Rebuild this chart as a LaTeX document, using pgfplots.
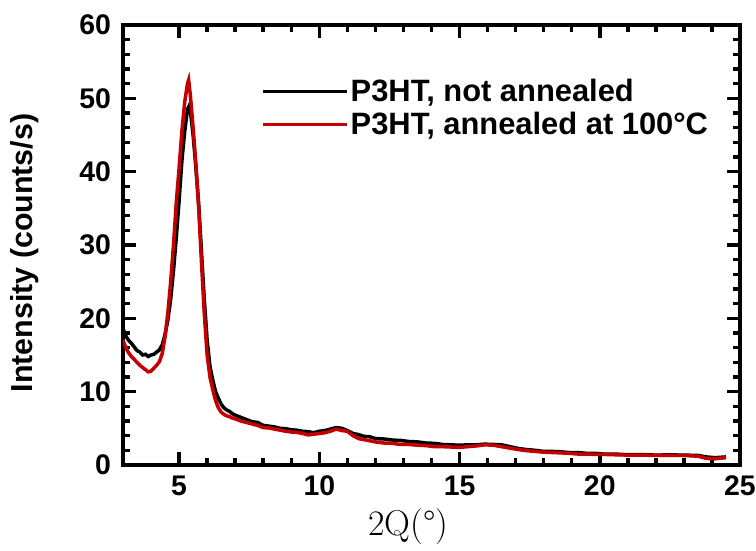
\documentclass[border=0pt]{standalone}
\usepackage{fontspec}
\setmainfont{Liberation Sans}
\newfontfamily\lmfont{Latin Modern Roman}
\usepackage{pgfplots}
\pgfplotsset{compat=1.18}
\definecolor{myred}{RGB}{196,0,0}

\begin{document}
\begin{tikzpicture}
\useasboundingbox (-123bp,-86bp) rectangle (633bp,465bp);
\begin{axis}[
  scale only axis,
  width=617bp, height=440bp,
  xmin=3, xmax=25, ymin=0, ymax=60,
  xtick={5,10,15,20,25}, ytick={0,10,20,30,40,50,60},
  minor x tick num=4, minor y tick num=4,
  tick align=inside,
  major tick length=13bp, minor tick length=7bp,
  every tick/.style={line width=3.5bp, black},
  axis line style={line width=4bp},
  /pgf/number format/assume math mode=true,
  ticklabel style={font=\fontsize{28.5}{32}\selectfont\bfseries},
  yticklabel style={xshift=-8.5bp},
  xticklabel style={yshift=-7.5bp},
  ylabel={Intensity (counts/s)},
  ylabel style={font=\fontsize{30.5}{34}\selectfont\bfseries, at={(axis description cs:-0.159,0.482)}, anchor=center},
  xlabel={\lmfont\fontsize{36}{40}\selectfont 2Q(°)},
  xlabel style={at={(axis description cs:0.462,-0.141)}, anchor=center},
  legend cell align=left,
  legend style={draw=none, fill=none, inner sep=0pt, row sep=6bp,
    font=\fontsize{31}{35}\selectfont\bfseries,
    nodes={inner sep=1.5bp},
    at={(axis description cs:0.2245,0.88)}, anchor=north west},
  legend image code/.code={\draw[#1] (0bp,0bp) -- (84bp,0bp);},
]
\addplot[black, line width=3.5bp] coordinates {
(3.00,18.6) (3.10,17.6) (3.20,17.0) (3.30,16.6) (3.40,16.1) (3.50,15.6) (3.60,15.4) (3.70,15.0) (3.80,15.1) (3.90,14.8)
(4.00,15.0) (4.10,15.1) (4.20,15.4) (4.30,15.7) (4.40,16.4) (4.50,17.8) (4.60,19.8) (4.70,22.6) (4.80,26.5) (4.90,31.0)
(5.00,36.0) (5.10,41.5) (5.20,45.5) (5.30,48.5) (5.35,48.9) (5.40,48.4) (5.50,45.0) (5.60,40.5) (5.70,35.5) (5.80,29.0)
(5.90,22.5) (6.00,17.0) (6.10,13.5) (6.20,11.6) (6.30,10.0) (6.40,9.1) (6.50,8.3) (6.60,7.8) (6.70,7.5) (6.80,7.3)
(6.90,7.0) (7.00,6.8) (7.20,6.5) (7.40,6.2) (7.60,5.9) (7.80,5.8) (8.00,5.4) (8.20,5.3) (8.40,5.2) (8.60,5.0)
(8.80,4.95) (9.00,4.8) (9.20,4.75) (9.40,4.6) (9.60,4.55) (9.80,4.4) (10.00,4.6) (10.20,4.7) (10.40,4.9) (10.60,5.1)
(10.80,5.0) (11.00,4.7) (11.20,4.3) (11.40,4.15) (11.60,3.9) (11.80,3.85) (12.00,3.6) (12.30,3.55) (12.60,3.4) (12.90,3.35)
(13.20,3.2) (13.50,3.15) (13.80,3.0) (14.10,2.95) (14.40,2.8) (14.70,2.75) (15.00,2.7) (15.30,2.75) (15.60,2.75) (15.90,2.85)
(16.20,2.8) (16.50,2.75) (16.80,2.5) (17.10,2.25) (17.40,2.1) (17.70,2.0) (18.00,1.85) (18.30,1.85) (18.60,1.8) (18.90,1.7)
(19.20,1.7) (19.50,1.6) (19.80,1.6) (20.10,1.5) (20.50,1.5) (21.00,1.4) (21.50,1.42) (22.00,1.35) (22.50,1.38) (23.00,1.35)
(23.50,1.3) (23.80,1.1) (24.10,1.0) (24.50,1.1)
};
\addlegendentry{P3HT, not annealed}
\addplot[myred, line width=3.5bp] coordinates {
(3.00,17.0) (3.10,16.0) (3.20,15.3) (3.30,14.8) (3.40,14.4) (3.50,14.0) (3.60,13.6) (3.70,13.3) (3.80,13.0) (3.90,12.7)
(4.00,12.8) (4.10,13.2) (4.20,13.6) (4.30,14.1) (4.40,15.2) (4.50,17.5) (4.60,20.8) (4.70,25.0) (4.80,30.0) (4.90,35.8)
(5.00,40.5) (5.10,45.5) (5.20,49.5) (5.30,52.0) (5.34,52.5) (5.40,50.5) (5.50,46.0) (5.60,41.0) (5.70,35.0) (5.80,27.5)
(5.90,20.5) (6.00,15.0) (6.10,12.0) (6.20,10.3) (6.30,8.8) (6.40,7.8) (6.50,7.2) (6.60,6.9) (6.70,6.7) (6.80,6.6)
(6.90,6.4) (7.00,6.3) (7.20,6.0) (7.40,5.8) (7.60,5.6) (7.80,5.4) (8.00,5.1) (8.20,5.05) (8.40,4.9) (8.60,4.75)
(8.80,4.6) (9.00,4.5) (9.20,4.45) (9.40,4.3) (9.60,4.1) (9.80,4.2) (10.00,4.3) (10.20,4.4) (10.40,4.6) (10.60,4.9)
(10.80,4.7) (11.00,4.6) (11.20,4.0) (11.40,3.6) (11.60,3.45) (11.80,3.3) (12.00,3.15) (12.30,3.0) (12.60,2.95) (12.90,2.8)
(13.20,2.8) (13.50,2.7) (13.80,2.65) (14.10,2.5) (14.40,2.5) (14.70,2.45) (15.00,2.4) (15.30,2.5) (15.60,2.6) (15.90,2.75)
(16.20,2.7) (16.50,2.5) (16.80,2.3) (17.10,2.1) (17.40,1.95) (17.70,1.85) (18.00,1.75) (18.30,1.7) (18.60,1.65) (18.90,1.6)
(19.20,1.5) (19.50,1.5) (19.80,1.45) (20.10,1.45) (20.50,1.4) (21.00,1.35) (21.50,1.35) (22.00,1.3) (22.50,1.3) (23.00,1.3)
(23.50,1.2) (23.80,0.9) (24.10,0.85) (24.50,1.0)
};
\addlegendentry{P3HT, annealed at 100°C}
\end{axis}
\end{tikzpicture}
\end{document}
